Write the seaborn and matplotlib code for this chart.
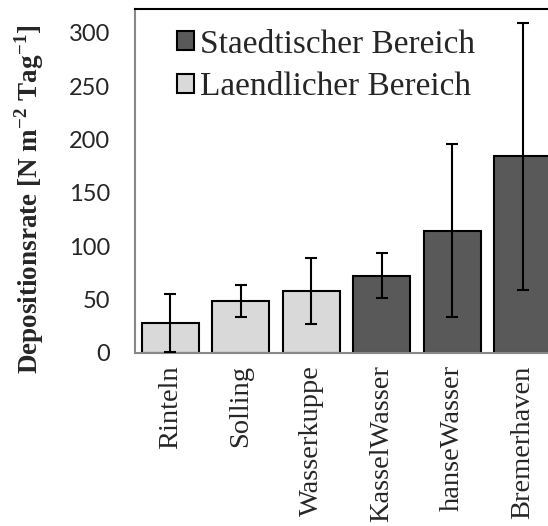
import pandas as pd
import seaborn as sns
import matplotlib.pyplot as plt

# Werte
sites = ['Rinteln', 'Solling', 'Wasserkuppe', 'KasselWasser', 'hanseWasser', 'Bremerhaven']
rates = [28, 48, 58, 72, 114.5, 184]
errors = [27, 15, 31, 21, 81, 125]
groups = ['Laendlicher Bereich', 'Laendlicher Bereich', 'Laendlicher Bereich',
          'Staedtischer Bereich', 'Staedtischer Bereich', 'Staedtischer Bereich']
group_order = ['Staedtischer Bereich', 'Laendlicher Bereich']
group_colors = {'Staedtischer Bereich': '#595959', 'Laendlicher Bereich': '#d9d9d9'}

df = pd.DataFrame({'site': sites, 'rate': rates, 'err': errors, 'group': groups})

sns.set_style('white')
plt.rcParams['mathtext.fontset'] = 'custom'
plt.rcParams['mathtext.bf'] = 'Liberation Serif:bold'
plt.rcParams['mathtext.rm'] = 'Liberation Serif:bold'

fig = plt.figure(figsize=(5.48, 5.26), dpi=100)
ax = fig.add_axes([0.2464, 0.3295, 0.772, 0.653])

sns.barplot(data=df, x='site', y='rate', hue='group', hue_order=group_order,
            palette=group_colors, dodge=False, width=0.81,
            edgecolor='black', linewidth=1.5, ax=ax)

ax.errorbar(x=range(len(df)), y=df['rate'], yerr=df['err'], fmt='none',
            ecolor='black', elinewidth=1.5, capsize=4.3, capthick=1.5, zorder=5)

ax.set_xlim(-0.5, 5.5)
ax.set_ylim(0, 322)
ax.set_yticks(range(0, 301, 50))
ax.set_yticklabels([str(v) for v in range(0, 301, 50)], fontfamily='Lato', fontsize=17)
ax.set_xticks(range(len(sites)))
ax.set_xticklabels(sites, rotation=90, fontfamily='Liberation Serif', fontsize=20.5)
ax.tick_params(axis='x', length=0, pad=9)
ax.tick_params(axis='y', length=0, pad=18)

ax.set_xlabel('')
ax.set_ylabel(r'Depositionsrate [N m$^{\mathbf{-2}}$ Tag$^{\mathbf{-1}}$]',
              fontfamily='Liberation Serif', fontweight='bold', fontsize=19.5)
ax.yaxis.set_label_coords(-0.21, 0.445)

for side in ['left', 'bottom']:
    ax.spines[side].set_color('#888888')
    ax.spines[side].set_linewidth(1.5)
ax.spines['top'].set_color('black')
ax.spines['top'].set_linewidth(1.5)
ax.spines['right'].set_visible(False)

handles, labels = ax.get_legend_handles_labels()
ax.legend(handles, labels, loc='upper left', bbox_to_anchor=(0.06, 0.99), frameon=False,
          prop={'family': 'Liberation Serif', 'size': 24}, handlelength=0.5, handleheight=0.5,
          handletextpad=0.2, labelspacing=0.35, borderaxespad=0.1)

fig.savefig('out.png', dpi=100)
